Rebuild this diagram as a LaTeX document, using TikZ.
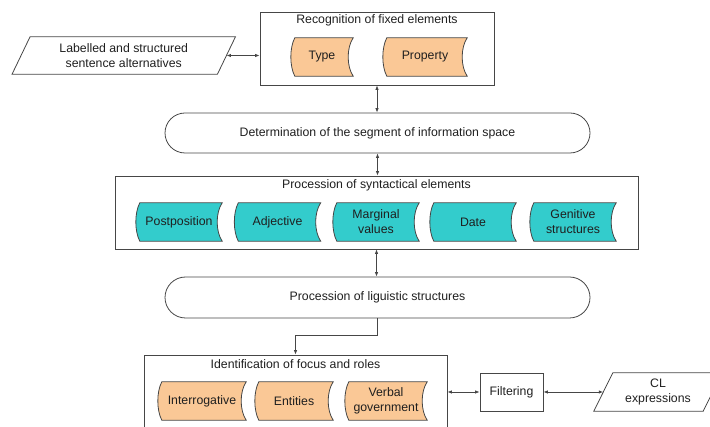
\documentclass[tikz,border=0pt]{standalone}
\usepackage{fontspec}
\setmainfont{Liberation Sans}
\usetikzlibrary{arrows.meta,backgrounds}
\definecolor{peach}{RGB}{250,200,150}
\definecolor{tealfill}{RGB}{51,204,204}
\definecolor{lines}{RGB}{70,70,70}
\begin{document}
\begin{tikzpicture}[x=1pt,y=-1pt,
  every node/.style={font=\fontsize{12.3}{15}\selectfont, text=black!88, align=center, inner sep=0pt},
  box/.style={draw=lines, line width=0.8pt, rectangle},
  sd/.style={rectangle, minimum height=38pt},
  shapeline/.style={draw=lines, line width=0.8pt},
  >={Latex[length=4.5pt,width=3.5pt]},
  dbl/.style={<->, draw=lines, line width=0.8pt},
  sgl/.style={->, draw=lines, line width=0.8pt}
]
\useasboundingbox (0,0) rectangle (710,427);
\clip (0,0) rectangle (710,427);

% top block
\node[box, minimum width=234pt, minimum height=73pt] (rfe) at (377,48.5) {};
\node (rfet) at (377,20) {Recognition of fixed elements};
\node[sd, minimum width=62pt] (type) at (322,57) {Type};
\node[sd, minimum width=84pt] (prop) at (425,57) {Property};

% input parallelogram
\node[minimum width=205pt, minimum height=37pt] (lab) at (123.75,55.5) {Labelled and structured\\sentence alternatives};
\draw[shapeline] ([xshift=-9pt]lab.south west) -- ([xshift=9pt]lab.north west) -- ([xshift=9pt]lab.north east) -- ([xshift=-9pt]lab.south east) -- cycle;

% determination
\node[box, rounded corners=20pt, minimum width=425pt, minimum height=40pt] (det) at (377.5,133) {Determination of the segment of information space};

% syntactical
\node[box, minimum width=523pt, minimum height=73pt] (syn) at (376.5,212.5) {};
\node (synt) at (376.5,185) {Procession of syntactical elements};
\node[sd, minimum width=86pt] (post) at (179,222) {Postposition};
\node[sd, minimum width=86pt] (adj) at (277.5,222) {Adjective};
\node[sd, minimum width=86pt] (marg) at (376,222) {Marginal\\values};
\node[sd, minimum width=86pt] (date) at (473,222) {Date};
\node[sd, minimum width=86pt] (gen) at (573,222) {Genitive\\structures};

% linguistic
\node[box, rounded corners=20.5pt, minimum width=425pt, minimum height=41pt] (proc) at (377.5,297.5) {Procession of liguistic structures};

% focus and roles
\node[box, minimum width=303pt, minimum height=85pt] (ifr) at (295.5,397.5) {};
\node (ifrt) at (295.5,364) {Identification of focus and roles};
\node[sd, minimum width=88pt] (interr) at (202,401) {Interrogative};
\node[sd, minimum width=78pt] (ent) at (294,401) {Entities};
\node[sd, minimum width=82pt] (verb) at (386,401) {Verbal\\government};

% filtering and output
\node[box, minimum width=63pt, minimum height=38pt] (filt) at (511.5,392) {Filtering};
\node[minimum width=109pt, minimum height=38pt] (cl) at (658,392) {CL\\expressions};
\draw[shapeline] ([xshift=-9.5pt]cl.south west) -- ([xshift=9.5pt]cl.north west) -- ([xshift=9.5pt]cl.north east) -- ([xshift=-9.5pt]cl.south east) -- cycle;

% stored-data shapes
\begin{scope}[on background layer]
\foreach \n/\c in {type/peach, prop/peach, post/tealfill, adj/tealfill, marg/tealfill, date/tealfill, gen/tealfill, interr/peach, ent/peach, verb/peach} {
  \filldraw[fill=\c, shapeline] ([xshift=4pt]\n.north west) -- (\n.north east)
    .. controls ([xshift=-6.7pt,yshift=-10pt]\n.north east) and ([xshift=-6.7pt,yshift=10pt]\n.south east) .. (\n.south east)
    -- ([xshift=4pt]\n.south west)
    .. controls ([xshift=-1.3pt,yshift=10pt]\n.south west) and ([xshift=-1.3pt,yshift=-10pt]\n.north west) .. cycle;
}
\end{scope}

% connectors
\draw[dbl] (lab.east) -- (lab.east -| rfe.west);
\draw[dbl] (rfe.south) -- (rfe.south |- det.north);
\draw[dbl] (det.south) -- (det.south |- syn.north);
\draw[dbl] (syn.south) -- (syn.south |- proc.north);
\draw[sgl] (proc.south) -- ++(0,17) -| (ifr.north);
\draw[dbl] (filt.west -| ifr.east) -- (filt.west);
\draw[dbl] (filt.east) -- (cl.west);
\end{tikzpicture}
\end{document}
